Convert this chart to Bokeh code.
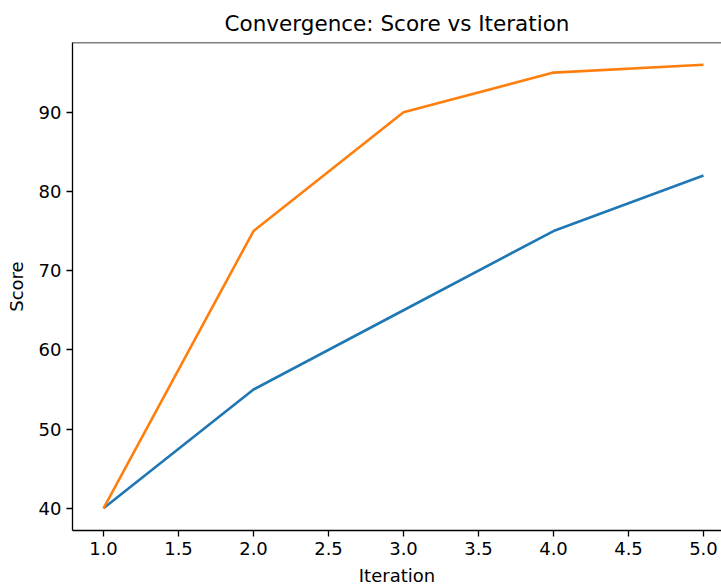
from bokeh.plotting import figure
from bokeh.models import Range1d, FixedTicker, PrintfTickFormatter, Span
from bokeh.embed import file_html
from bokeh.resources import INLINE

iterations = [1, 2, 3, 4, 5]
score_a = [40, 55, 65, 75, 82]
score_b = [40, 75, 90, 95, 96]
x_ticks = [1.0, 1.5, 2.0, 2.5, 3.0, 3.5, 4.0, 4.5, 5.0]
y_ticks = [40, 50, 60, 70, 80, 90]

FONT = "DejaVu Sans"

y_range = Range1d(37.2, 98.8)
p = figure(width=721, height=588, output_backend="svg", toolbar_location=None,
           x_range=Range1d(0.7933, 5.12), y_range=y_range,
           min_border_left=72, min_border_right=0, min_border_top=42, min_border_bottom=58,
           title="Convergence: Score vs Iteration")
p.outline_line_color = None
p.xgrid.visible = False
p.ygrid.visible = False
p.background_fill_color = "white"
p.border_fill_color = "white"

p.title.align = "center"
p.title.text_font = FONT
p.title.text_font_size = "21.5px"
p.title.text_font_style = "normal"
p.title.text_color = "black"
p.title.offset = 5
p.title.standoff = 14

for ax in (p.xaxis[0], p.yaxis[0]):
    ax.axis_line_color = "black"
    ax.axis_line_width = 1.3
    ax.major_tick_line_color = "black"
    ax.major_tick_line_width = 1.3
    ax.major_tick_in = 0
    ax.major_tick_out = 6
    ax.minor_tick_line_color = None
    ax.major_label_text_font = FONT
    ax.major_label_text_font_size = "18px"
    ax.major_label_text_color = "black"
    ax.major_label_standoff = 5
    ax.axis_label_text_font = FONT
    ax.axis_label_text_font_size = "18px"
    ax.axis_label_text_font_style = "normal"
    ax.axis_label_text_color = "black"

p.xaxis.ticker = FixedTicker(ticks=x_ticks)
p.xaxis.formatter = PrintfTickFormatter(format="%.1f")
p.yaxis.ticker = FixedTicker(ticks=y_ticks)
p.xaxis.axis_label = "Iteration"
p.yaxis.axis_label = "Score"
p.xaxis.axis_label_standoff = 7
p.yaxis.axis_label_standoff = 9

p.add_layout(Span(location=y_range.end, dimension="width", line_color="black", line_width=1.3))

p.line(iterations, score_a, line_color="#1f77b4", line_width=2.6)
p.line(iterations, score_b, line_color="#ff7f0e", line_width=2.6)

open("out.html", "w").write(file_html(p, INLINE))
